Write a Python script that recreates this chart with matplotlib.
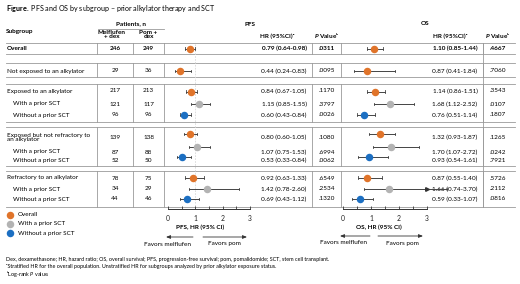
import matplotlib
matplotlib.use("Agg")
import matplotlib.pyplot as plt

plt.rcParams['font.family'] = ['Lato', 'DejaVu Sans']
plt.rcParams['mathtext.fontset'] = 'custom'
plt.rcParams['mathtext.rm'] = 'Lato'
plt.rcParams['mathtext.it'] = 'Lato:italic'
plt.rcParams['mathtext.bf'] = 'Lato:bold'
plt.rcParams['mathtext.bfit'] = 'Lato:bold:italic'

# ---------------- data ----------------
labels = ["Overall", "Not exposed to an alkylator", "Exposed to an alkylator",
          "With a prior SCT", "Without a prior SCT",
          "Exposed but not refractory to\nan alkylator", "With a prior SCT", "Without a prior SCT",
          "Refractory to an alkylator", "With a prior SCT", "Without a prior SCT"]
kind = ["overall", "overall", "overall", "with", "without",
        "overall", "with", "without", "overall", "with", "without"]
n_mel = [246, 29, 217, 121, 96, 139, 87, 52, 78, 34, 44]
n_pom = [249, 36, 213, 117, 96, 138, 88, 50, 75, 29, 46]
pfs_hr = [0.79, 0.44, 0.84, 1.15, 0.60, 0.80, 1.07, 0.53, 0.92, 1.42, 0.69]
pfs_lo = [0.64, 0.24, 0.67, 0.85, 0.43, 0.60, 0.75, 0.33, 0.63, 0.78, 0.43]
pfs_hi = [0.98, 0.83, 1.05, 1.55, 0.84, 1.05, 1.53, 0.84, 1.33, 2.60, 1.12]
pfs_p = [".0311", ".0095", ".1170", ".3797", ".0026", ".1080", ".6994", ".0062", ".6549", ".2534", ".1320"]
os_hr = [1.10, 0.87, 1.14, 1.68, 0.76, 1.32, 1.70, 0.93, 0.87, 1.66, 0.59]
os_lo = [0.85, 0.41, 0.86, 1.12, 0.51, 0.93, 1.07, 0.54, 0.55, 0.74, 0.33]
os_hi = [1.44, 1.84, 1.51, 2.52, 1.14, 1.87, 2.72, 1.61, 1.40, 3.70, 1.07]
os_p = [".4667", ".7060", ".3543", ".0107", ".1807", ".1265", ".0242", ".7921", ".5726", ".2112", ".0816"]
xticks = [0, 1, 2, 3]
legend_labels = ["Overall", "With a prior SCT", "Without a prior SCT"]

# ---------------- layout / style ----------------
W, H = 520, 284
colors = {"overall": "#E0742A", "with": "#B3B3B3", "without": "#1C6FC2"}
text_y = [48.5, 71, 91, 104, 115, 137.5, 152, 160.5, 178, 189, 199]
mark_y = [48.5, 71, 91.5, 104, 114.5, 134, 147, 157, 177.5, 189, 199]
label_x = [7, 7, 7, 13, 13, 7, 13, 13, 7, 13, 13]
boxes = [(43, 54), (63, 77), (84, 122), (127, 166), (171, 207)]
vlines_x = [97, 133, 164, 312, 341, 483]
line_col = "#9a9a9a"
fs = 4.6

fig = plt.figure(figsize=(W / 100, H / 100), dpi=100)
ax = fig.add_axes([0, 0, 1, 1])
ax.set_xlim(0, W)
ax.set_ylim(H, 0)
ax.axis("off")

# title
ax.text(6, 8, r"$\mathbf{Figure.}$ PFS and OS by subgroup – prior alkylator therapy and SCT",
        fontsize=5.1, va="center", ha="left")

# headers
ax.text(6, 32, "Subgroup", fontsize=fs, fontweight="bold", va="center")
ax.text(131, 23.5, "Patients, n", fontsize=fs, fontweight="bold", va="center", ha="center")
ax.plot([98, 164], [29, 29], color=line_col, lw=0.6)
ax.text(112, 34.5, "Melflufen\n+ dex", fontsize=fs, fontweight="bold", va="center", ha="center",
        linespacing=0.9)
ax.text(148.5, 34.5, "Pom +\ndex", fontsize=fs, fontweight="bold", va="center", ha="center",
        linespacing=0.9)
ax.text(250, 24.5, "PFS", fontsize=fs, fontweight="bold", va="center", ha="center")
ax.text(425, 23.5, "OS", fontsize=fs, fontweight="bold", va="center", ha="center")
ax.text(260, 36, "HR (95%CI)ᵃ", fontsize=fs, fontweight="bold", va="center", ha="left")
ax.text(326.5, 36, r"$\mathbfit{P}$ Valueᵇ", fontsize=fs, fontweight="bold",
        va="center", ha="center")
ax.text(450, 36, "HR (95%CI)ᵃ", fontsize=fs, fontweight="bold", va="center", ha="center")
ax.text(497.5, 36, r"$\mathbfit{P}$ Valueᵇ", fontsize=fs, fontweight="bold",
        va="center", ha="center")

# table lines
for top, bot in boxes:
    ax.plot([6, 515], [top, top], color=line_col, lw=0.6)
    ax.plot([6, 515], [bot, bot], color=line_col, lw=0.6)
    for vx in vlines_x:
        ax.plot([vx, vx], [top, bot], color=line_col, lw=0.6)
ax.plot([483, 483], [43, 207], color=line_col, lw=0.6)

# table text
for i, lab in enumerate(labels):
    w = "bold" if i == 0 else "normal"
    ty = text_y[i]
    ax.text(label_x[i], ty, lab, fontsize=fs, fontweight=w, va="center", ha="left", linespacing=0.9)
    ax.text(115, ty, str(n_mel[i]), fontsize=fs, fontweight=w, va="center", ha="center")
    ax.text(148.5, ty, str(n_pom[i]), fontsize=fs, fontweight=w, va="center", ha="center")
    ax.text(284, ty, f"{pfs_hr[i]:.2f} ({pfs_lo[i]:.2f}-{pfs_hi[i]:.2f})", fontsize=fs,
            fontweight=w, va="center", ha="center")
    ax.text(326.5, ty, pfs_p[i], fontsize=fs, fontweight=w, va="center", ha="center")
    ax.text(455, ty, f"{os_hr[i]:.2f} ({os_lo[i]:.2f}-{os_hi[i]:.2f})", fontsize=fs,
            fontweight=w, va="center", ha="center")
    ax.text(497.5, ty, os_p[i], fontsize=fs, fontweight=w, va="center", ha="center")

# legend
for j, (k, lab) in enumerate(zip(["overall", "with", "without"], legend_labels)):
    yy = 215 + 9 * j
    ax.plot([10], [yy], "o", ms=5.4, color=colors[k], mec="none")
    ax.text(18, yy, lab, fontsize=fs, va="center", ha="left")

# footnotes
fn = 3.9
ax.text(6, 259, "Dex, dexamethasone; HR, hazard ratio; OS, overall survival; PFS, progression-free survival; "
        "pom, pomalidomide; SCT, stem cell transplant.", fontsize=fn, va="center", ha="left")
ax.text(6, 266.5, "ᵃStratified HR for the overall population. Unstratified HR for subgroups "
        "analyzed by prior alkylator exposure status.", fontsize=fn, va="center", ha="left")
ax.text(6, 274, r"ᵇLog-rank $\mathit{P}$ value.", fontsize=fn, va="center", ha="left")


def forest(x0, x1, hr, lo, hi, title, title_cx, refline, arrow_y, left_arrow, right_arrow,
           left_cx, right_cx):
    top, bot = 43, 209
    fa = fig.add_axes([x0 / W, 1 - bot / H, (x1 - x0) / W, (bot - top) / H])
    fa.set_xlim(0, xticks[-1])
    fa.set_ylim(bot, top)
    fa.patch.set_alpha(0)
    for s in ["top", "left", "right"]:
        fa.spines[s].set_visible(False)
    fa.spines["bottom"].set_linewidth(0.7)
    fa.spines["bottom"].set_color("#333333")
    fa.set_yticks([])
    fa.set_xticks([t / 2 for t in range(0, 2 * xticks[-1] + 1)])
    fa.set_xticklabels([str(int(t / 2)) if t % 2 == 0 else "" for t in range(0, 2 * xticks[-1] + 1)],
                       fontsize=fs + 0.3)
    fa.tick_params(axis="x", direction="in", length=2.2, width=0.6, pad=4, colors="#333333",
                   labelcolor="#222222")
    if refline:
        fa.axvline(1, color="#d8d8d8", lw=0.6, ls=(0, (2, 1.5)), zorder=0)
    xmax = xticks[-1]
    for i in range(len(hr)):
        y = mark_y[i]
        fa.plot([lo[i], hi[i]], [y, y], color="#444444", lw=0.7, clip_on=False, zorder=2)
        for e in (lo[i], hi[i]):
            fa.plot([e, e], [y - 1.2, y + 1.2], color="#444444", lw=0.6, clip_on=False, zorder=2)
        if hi[i] > xmax:
            fa.plot([xmax], [y], marker=">", ms=2.6, color="#333333", clip_on=False, zorder=3)
        fa.plot([hr[i]], [y], "o", ms=5.4, color=colors[kind[i]], mec="none", zorder=4)
    ax.text(title_cx, 227, title, fontsize=fs, fontweight="bold", va="center", ha="center")
    ax.annotate("", xy=(left_arrow[1], arrow_y), xytext=(left_arrow[0], arrow_y),
                arrowprops=dict(arrowstyle="-|>,head_length=0.25,head_width=0.1", color="#333333", lw=0.6,
                                shrinkA=0, shrinkB=0))
    ax.annotate("", xy=(right_arrow[1], arrow_y), xytext=(right_arrow[0], arrow_y),
                arrowprops=dict(arrowstyle="-|>,head_length=0.25,head_width=0.1", color="#333333", lw=0.6,
                                shrinkA=0, shrinkB=0))
    ax.text(left_cx, arrow_y + 7, "Favors melflufen", fontsize=fs, va="center", ha="center")
    ax.text(right_cx, arrow_y + 7, "Favors pom", fontsize=fs, va="center", ha="center")


forest(168, 250, pfs_hr, pfs_lo, pfs_hi, "PFS, HR (95% CI)", 200.5, True, 237,
       (193, 166), (203, 247), 168, 224)
forest(343, 427, os_hr, os_lo, os_hi, "OS, HR (95% CI)", 378.5, False, 236,
       (370, 340), (378, 423), 343, 402)

fig.savefig("out.png", dpi=100)
